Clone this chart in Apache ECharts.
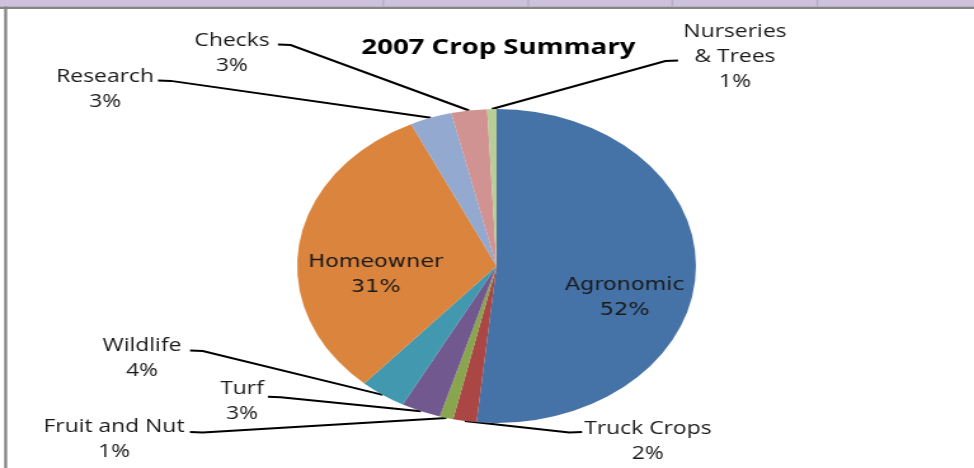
<!DOCTYPE html>
<html><head><meta charset="utf-8">
<script src="https://cdn.jsdelivr.net/npm/echarts@6/dist/echarts.min.js"></script>
<style>
html,body{margin:0;padding:0;background:#fff;overflow:hidden;width:974px;height:468px}
#chart{width:767px;height:468px;transform:scaleX(1.27);transform-origin:0 0;}
</style></head><body><div id="chart"></div>
<script>
// ---- data ----
const categories = ['Agronomic','Truck Crops','Fruit and Nut','Turf','Wildlife','Homeowner','Research','Checks','Nurseries & Trees'];
const shares = [51.6, 1.9, 1.1, 3.2, 3.75, 31.4, 3.4, 2.9, 0.75];
const sliceColors = ['#4572A7','#AA4643','#89A54E','#71588F','#4198AF','#DB843D','#93A9CF','#D19392','#B9CD96'];
const titleText = '2007 Crop Summary';

// ---- label placement (offsets from the slice anchor, in chart px) ----
const insideLabels = { 'Agronomic': [19.5, 27.5], 'Homeowner': [-14.5, 20] };
const outsideLabels = {
  'Truck Crops':       [144.2, 20, 92.3, 11],
  'Fruit and Nut':     [-261.7, 21, -201.9, 14],
  'Turf':              [-140.8, -9.7, -120.4, -14.6],
  'Wildlife':          [-189.5, -36.9, -151.7, -44.3],
  'Research':          [-256.5, -28.3, -214.8, -37.4],
  'Checks':            [-186.7, -57, -150.5, -66],
  'Nurseries & Trees': [191.4, -52, 146.6, -48.5]
};

const chart = echarts.init(document.getElementById('chart'));
const W = 767;
const dataItems = categories.map((name, i) => {
  const item = { name: name, value: shares[i], itemStyle: { color: sliceColors[i] } };
  if (insideLabels[name]) {
    item.label = { position: 'inside', fontFamily: 'DejaVu Sans', fontSize: 17.6, color: '#1a1a1a', lineHeight: 25 };
    item.labelLine = { show: false };
  }
  return item;
});

chart.setOption({
  animation: false,
  backgroundColor: '#ffffff',
  title: {
    text: titleText,
    left: 387.5, top: 32, textAlign: 'center',
    textStyle: { fontFamily: 'Open Sans', fontWeight: 'bold', fontSize: 21.7, color: '#000' }
  },
  graphic: [
    { type: 'rect', shape: { x: 0, y: 0, width: W, height: 6.5 }, style: { fill: '#cdc1dc' }, silent: true },
    { type: 'rect', shape: { x: 0, y: 6.5, width: W, height: 2.5 }, style: { fill: '#858585' }, silent: true },
    { type: 'rect', shape: { x: 301.2, y: 0, width: 1.2, height: 6.5 }, style: { fill: '#b3aac4' }, silent: true },
    { type: 'rect', shape: { x: 415.3, y: 0, width: 1.2, height: 6.5 }, style: { fill: '#b3aac4' }, silent: true },
    { type: 'rect', shape: { x: 528.7, y: 0, width: 1.2, height: 6.5 }, style: { fill: '#b3aac4' }, silent: true },
    { type: 'rect', shape: { x: 642.9, y: 0, width: 1.2, height: 6.5 }, style: { fill: '#b3aac4' }, silent: true },
    { type: 'rect', shape: { x: 3.3, y: 6.5, width: 2.3, height: 470 }, style: { fill: '#858585' }, silent: true }
  ],
  series: [{
    type: 'pie',
    center: [391, 266],
    radius: 157,
    startAngle: 90,
    clockwise: true,
    avoidLabelOverlap: false,
    percentPrecision: 0,
    silent: true,
    emphasis: { disabled: true },
    itemStyle: { borderWidth: 0 },
    label: {
      show: true,
      position: 'outside',
      fontFamily: 'Open Sans',
      fontSize: 18,
      lineHeight: 25,
      color: '#1a1a1a',
      align: 'center',
      formatter: function (p) {
        return p.name.replace(' & ', '\n& ') + '\n' + p.percent + '%';
      }
    },
    labelLine: {
      show: true,
      length: 20, length2: 10,
      lineStyle: { color: '#000', width: 2 }
    },
    labelLayout: function (params) {
      const name = categories[params.dataIndex];
      if (insideLabels[name]) {
        return { dx: insideLabels[name][0], dy: insideLabels[name][1] };
      }
      const cfg = outsideLabels[name];
      const pts = params.labelLinePoints;
      if (!cfg || !pts) return {};
      const ax = pts[0][0], ay = pts[0][1];
      const ex = ax + cfg[2], ey = ay + cfg[3];
      const bx = ex - Math.sign(cfg[2]) * 10;
      return {
        x: ax + cfg[0],
        y: ay + cfg[1],
        align: 'center',
        verticalAlign: 'middle',
        labelLinePoints: [[ax, ay], [bx, ey + 0.5], [ex, ey]]
      };
    },
    data: dataItems
  }]
});
</script></body></html>
